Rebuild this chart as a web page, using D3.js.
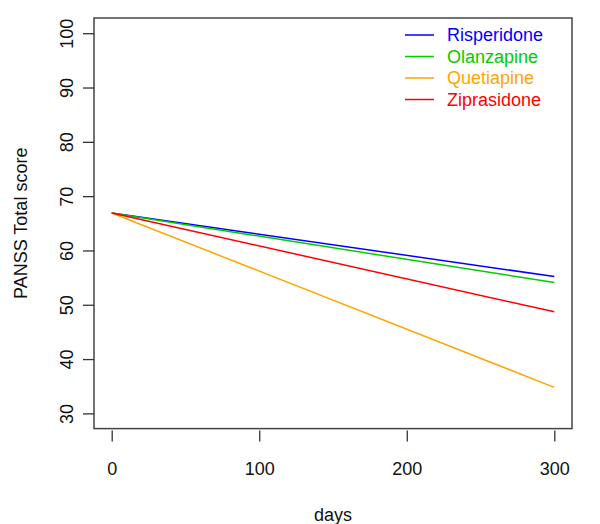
<!DOCTYPE html>
<html><head><meta charset="utf-8">
<script src="https://cdn.jsdelivr.net/npm/d3@7"></script>
<style>body{margin:0;background:#fff;} text{font-family:"Liberation Sans",Arial,Helvetica,sans-serif;}</style>
</head><body>
<svg id="c" width="600" height="524"></svg>
<script>
const days = [0, 300];
const seriesNames = ["Risperidone", "Olanzapine", "Quetiapine", "Ziprasidone"];
const seriesColors = ["#0000FF", "#00CD00", "#FFA500", "#FF0000"];
const risperidone = [66.9, 55.2];
const olanzapine = [66.9, 54.1];
const quetiapine = [66.9, 34.8];
const ziprasidone = [66.9, 48.7];
const xTicks = [0, 100, 200, 300];
const yTicks = [30, 40, 50, 60, 70, 80, 90, 100];
const seriesValues = [risperidone, olanzapine, quetiapine, ziprasidone];

const svg = d3.select("#c");
const x = d3.scaleLinear().domain([-12, 312]).range([94, 572]);
const y = d3.scaleLinear().domain([27.2, 102.8]).range([428.6, 18]);
const fs = 18;

// box
svg.append("rect").attr("x", x(-12)).attr("y", y(102.8))
  .attr("width", x(312) - x(-12)).attr("height", y(27.2) - y(102.8))
  .attr("fill", "none").attr("stroke", "#444").attr("stroke-width", 1.5);

// x axis
const gx = svg.append("g").attr("transform", "translate(0,430.5)")
  .call(d3.axisBottom(x).tickValues(xTicks).tickSize(11).tickPadding(21).tickFormat(d3.format("d")));
gx.select(".domain").remove();
gx.selectAll("line").attr("stroke", "#333").attr("stroke-width", 1.3);
gx.selectAll("text").attr("font-size", fs).attr("fill", "#111").attr("font-family", "Liberation Sans, Arial, sans-serif");

// y axis
const gy = svg.append("g").attr("transform", "translate(" + x(-12) + ",0)")
  .call(d3.axisLeft(y).tickValues(yTicks).tickSize(11).tickFormat(d3.format("d")));
gy.select(".domain").remove();
gy.selectAll("line").attr("stroke", "#333").attr("stroke-width", 1.3);
gy.selectAll("text").attr("font-size", fs).attr("fill", "#111")
  .attr("font-family", "Liberation Sans, Arial, sans-serif")
  .attr("x", null).attr("dy", "0.36em").attr("text-anchor", "middle")
  .attr("transform", "translate(-27.3,0) rotate(-90)");

// titles
svg.append("text").attr("x", (x(-12) + x(312)) / 2).attr("y", 521)
  .attr("text-anchor", "middle").attr("font-size", fs).attr("fill", "#111").text("days");
svg.append("text").attr("transform", "translate(27," + ((y(27.2) + y(102.8)) / 2) + ") rotate(-90)")
  .attr("text-anchor", "middle").attr("font-size", fs).attr("fill", "#111").text("PANSS Total score");

// lines
const line = d3.line().x((d, i) => x(days[i])).y(d => y(d));
seriesValues.forEach((vals, i) => {
  svg.append("path").datum(vals).attr("d", line)
    .attr("fill", "none").attr("stroke", seriesColors[i]).attr("stroke-width", 1.5);
});

// legend
const legY = d3.scaleLinear().domain([0, 3]).range([35, 99.5]);
seriesNames.forEach((n, i) => {
  svg.append("line").attr("x1", 405).attr("x2", 434).attr("y1", legY(i)).attr("y2", legY(i))
    .attr("stroke", seriesColors[i]).attr("stroke-width", 1.5);
  svg.append("text").attr("x", 447).attr("y", legY(i)).attr("dy", "0.36em")
    .attr("font-size", fs).attr("fill", seriesColors[i]).text(n);
});
</script>
</body></html>
